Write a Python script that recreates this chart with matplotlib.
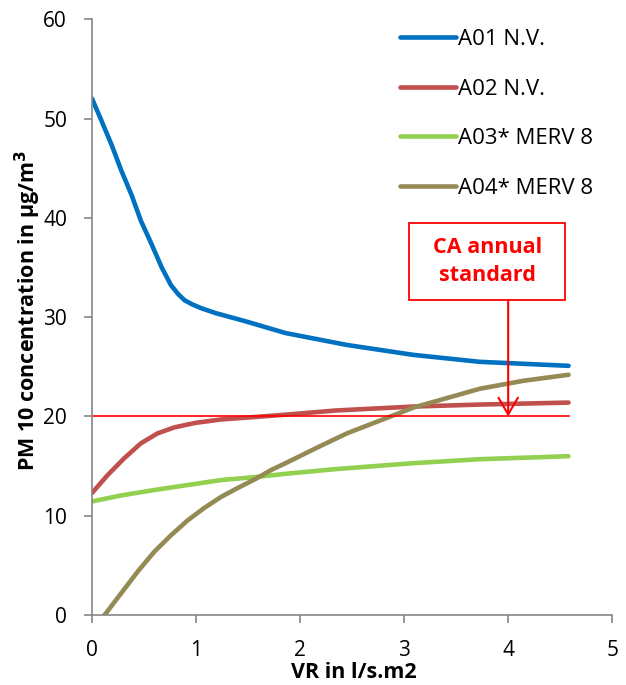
import matplotlib.pyplot as plt
from matplotlib.patches import Rectangle

plt.rcParams['font.family'] = ['Open Sans', 'DejaVu Sans']

# values
vr_a01 = [0.0, 0.09, 0.19, 0.28, 0.38, 0.47, 0.57, 0.67, 0.76, 0.83, 0.89, 0.96, 1.05, 1.19, 1.47,
          1.86, 2.45, 3.09, 3.73, 4.58]
pm_a01 = [52.0, 49.8, 47.3, 44.8, 42.3, 39.7, 37.4, 35.0, 33.2, 32.3, 31.7, 31.3, 30.9, 30.4, 29.6,
          28.4, 27.2, 26.2, 25.5, 25.1]

vr_a02 = [0.0, 0.15, 0.31, 0.47, 0.63, 0.79, 0.99, 1.24, 1.57, 1.88, 2.34, 3.09, 3.73, 4.58]
pm_a02 = [12.3, 14.1, 15.8, 17.3, 18.3, 18.9, 19.35, 19.7, 19.95, 20.2, 20.6, 21.0, 21.2, 21.4]

vr_a03 = [0.0, 0.28, 0.6, 0.92, 1.24, 1.57, 1.88, 2.34, 3.09, 3.73, 4.58]
pm_a03 = [11.45, 12.05, 12.6, 13.1, 13.6, 13.9, 14.25, 14.7, 15.3, 15.7, 16.0]

vr_a04 = [0.0, 0.12, 0.28, 0.44, 0.6, 0.76, 0.92, 1.08, 1.24, 1.4, 1.57, 1.72, 1.88,
          2.17, 2.45, 3.09, 3.73, 4.15, 4.58]
pm_a04 = [-1.65, 0.0, 2.2, 4.4, 6.4, 8.05, 9.55, 10.8, 11.9, 12.8, 13.7, 14.6, 15.4,
          16.9, 18.3, 20.9, 22.8, 23.6, 24.2]

labels = ['A01 N.V.', 'A02 N.V.', 'A03* MERV 8', 'A04* MERV 8']
colors = ['#0070C0', '#C0504D', '#92D050', '#948A54']

std_x = [0.0, 4.58]
std_y = [20, 20]

fig = plt.figure(figsize=(6.26, 6.85), dpi=100)
ax = fig.add_axes([0.147, 0.102, 0.831, 0.870])

series = [(vr_a01, pm_a01), (vr_a02, pm_a02), (vr_a03, pm_a03), (vr_a04, pm_a04)]
for (x, y), lab, c in zip(series, labels, colors):
  ax.plot(x, y, color=c, lw=3.3, label=lab, solid_capstyle='round', solid_joinstyle='round')

ax.plot(std_x, std_y, color='#FF0000', lw=1.2)

ax.set_xlim(0, 5)
ax.set_ylim(0, 60)
ax.set_xticks(range(0, 6))
ax.set_yticks(range(0, 61, 10))

for s in ['top', 'right']:
  ax.spines[s].set_visible(False)
for s in ['left', 'bottom']:
  ax.spines[s].set_color('#868686')
  ax.spines[s].set_linewidth(1.2)
ax.tick_params(colors='#868686', labelcolor='black', length=6, width=1.2, labelsize=15)
ax.tick_params(axis='x', pad=12)
ax.tick_params(axis='y', pad=12)

# axis titles placed like the original
fig.text(0.565, 1 - 672 / 685, 'VR in l/s.m2', fontsize=15.5, fontweight='bold',
         ha='center', va='center')
fig.text(28 / 626, 1 - 310 / 685, 'PM 10 concentration in µg/m$^\\mathbf{3}$', fontsize=15.5,
         fontweight='bold', rotation=90, ha='center', va='center')

# CA annual standard callout
ax.add_patch(Rectangle((3.048, 31.7), 1.5, 7.8, fill=False, edgecolor='#FF0000', lw=1.3, clip_on=False))
ax.text(3.8, 35.6, 'CA annual\nstandard', color='#FF0000', fontsize=15.5, fontweight='bold',
        ha='center', va='center', linespacing=1.45)
ax.annotate('', xy=(4.0, 20), xytext=(4.0, 31.7),
            arrowprops=dict(arrowstyle='->,head_length=0.6,head_width=0.35', color='#FF0000', lw=1.5,
                            mutation_scale=20, shrinkA=0, shrinkB=0))

ax.legend(loc='upper left', bbox_to_anchor=(0.575, 0.998), frameon=False, fontsize=16,
          handlelength=2.5, handletextpad=0.12, labelspacing=1.28, borderaxespad=0)

fig.savefig('out.png', dpi=100)
